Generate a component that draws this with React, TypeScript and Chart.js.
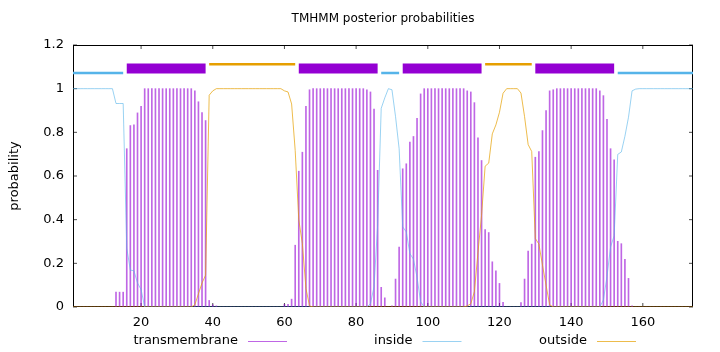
import React, { useEffect, useRef } from "react";
import { Chart, registerables } from "chart.js";

Chart.register(...registerables);

// ---- data (residue index = position in array + 1) ----
const tmProb = [
  0, 0, 0, 0, 0, 0, 0, 0, 0, 0,
  0, 0, 0.068, 0.068, 0.068, 0.725, 0.831, 0.834, 0.889, 0.919,
  1, 1, 1, 1, 1, 1, 1, 1, 1, 1,
  1, 1, 1, 1, 0.99, 0.94, 0.89, 0.854, 0.03, 0.01,
  0.005, 0, 0, 0, 0, 0, 0, 0, 0, 0,
  0, 0, 0, 0, 0, 0, 0, 0, 0, 0.012,
  0.012, 0.036, 0.283, 0.622, 0.709, 0.919, 0.995, 1, 1, 1,
  1, 1, 1, 1, 1, 1, 1, 1, 1, 1,
  1, 1, 0.995, 0.985, 0.907, 0.626, 0.09, 0.042, 0, 0.005,
  0.128, 0.275, 0.633, 0.656, 0.755, 0.781, 0.864, 0.976, 1, 1,
  1, 1, 1, 1, 1, 1, 1, 1, 1, 1,
  0.99, 0.985, 0.936, 0.775, 0.671, 0.355, 0.341, 0.207, 0.166, 0.108,
  0.021, 0, 0, 0, 0, 0.02, 0.128, 0.256, 0.288, 0.686,
  0.712, 0.808, 0.9, 0.99, 0.995, 1, 1, 1, 1, 1,
  1, 1, 1, 1, 1, 1, 1, 0.99, 0.968, 0.86,
  0.725, 0.674, 0.301, 0.29, 0.218, 0.131, 0.005, 0, 0, 0,
  0, 0, 0, 0, 0, 0, 0, 0, 0, 0,
  0, 0, 0, 0,
];

const insideProb = [
  1, 1, 1, 1, 1, 1, 1, 1, 1, 1,
  1, 1, 0.932, 0.932, 0.932, 0.27, 0.169, 0.166, 0.11, 0.08,
  0, 0, 0, 0, 0, 0, 0, 0, 0, 0,
  0, 0, 0, 0, 0, 0, 0, 0, 0, 0,
  0, 0, 0, 0, 0, 0, 0, 0, 0, 0,
  0, 0, 0, 0, 0, 0, 0, 0, 0, 0,
  0, 0, 0, 0, 0, 0, 0, 0, 0, 0,
  0, 0, 0, 0, 0, 0, 0, 0, 0, 0,
  0, 0, 0, 0.015, 0.093, 0.374, 0.91, 0.958, 1, 0.995,
  0.872, 0.725, 0.367, 0.344, 0.245, 0.219, 0.136, 0.024, 0, 0,
  0, 0, 0, 0, 0, 0, 0, 0, 0, 0,
  0, 0, 0, 0, 0, 0, 0, 0, 0, 0,
  0, 0, 0, 0, 0, 0, 0, 0, 0, 0,
  0, 0, 0, 0, 0, 0, 0, 0, 0, 0,
  0, 0, 0, 0, 0, 0, 0, 0, 0.032, 0.14,
  0.275, 0.326, 0.699, 0.71, 0.782, 0.869, 0.99, 0.998, 1, 1,
  1, 1, 1, 1, 1, 1, 1, 1, 1, 1,
  1, 1, 1, 1,
];

const outsideProb = [
  0, 0, 0, 0, 0, 0, 0, 0, 0, 0,
  0, 0, 0, 0, 0, 0, 0, 0, 0, 0,
  0, 0, 0, 0, 0, 0, 0, 0, 0, 0,
  0, 0, 0, 0, 0.01, 0.06, 0.11, 0.146, 0.97, 0.99,
  1, 1, 1, 1, 1, 1, 1, 1, 1, 1,
  1, 1, 1, 1, 1, 1, 1, 1, 1, 0.99,
  0.985, 0.93, 0.717, 0.4, 0.29, 0.085, 0.005, 0, 0, 0,
  0, 0, 0, 0, 0, 0, 0, 0, 0, 0,
  0, 0, 0, 0, 0, 0, 0, 0, 0, 0,
  0, 0, 0, 0, 0, 0, 0, 0, 0, 0,
  0, 0, 0, 0, 0, 0, 0, 0, 0, 0,
  0.005, 0.015, 0.07, 0.25, 0.42, 0.645, 0.659, 0.793, 0.834, 0.892,
  0.979, 1, 1, 1, 1, 0.98, 0.872, 0.744, 0.712, 0.314,
  0.288, 0.192, 0.1, 0.01, 0, 0, 0, 0, 0, 0,
  0, 0, 0, 0, 0, 0, 0, 0, 0, 0,
  0, 0, 0, 0, 0, 0, 0, 0, 0, 0,
  0, 0, 0, 0, 0, 0, 0, 0, 0, 0,
  0, 0, 0, 0,
];

// predicted topology segments [start, end]
const tmSegments = [[16, 38], [64, 86], [93, 115], [130, 152]];
const insideSegments = [[1, 15], [87, 92], [153, 174]];
const outsideSegments = [[39, 63], [116, 129]];

const seqLength = 174;
const xTickValues = [20, 40, 60, 80, 100, 120, 140, 160];
const yTickValues = [0, 0.2, 0.4, 0.6, 0.8, 1, 1.2];
const yTickLabels = ["0", "0.2", "0.4", "0.6", "0.8", "1", "1.2"];

const titleText = "TMHMM posterior probabilities";
const yAxisTitle = "probability";
const legendLabels = ["transmembrane", "inside", "outside"];

// ---- styles ----
const FONT = '"DejaVu Sans", sans-serif';
const FS = 13;
const TITLE_FS = 12;
const C_TM = "rgba(148,0,211,0.6)";
const C_IN = "rgba(86,180,233,0.6)";
const C_OUT = "rgba(230,159,0,0.7)";
const BAR_TM = "#9400d3";
const BAR_IN = "#56b4e9";
const BAR_OUT = "#e69f00";
const LEVEL_IN = 1.072;
const LEVEL_TM = 1.092;
const LEVEL_OUT = 1.112;

const toPoints = (arr: number[]) => arr.map((v, i) => ({ x: i + 1, y: v }));
const segPoints = (segs: number[][], level: number) => {
  const pts: { x: number; y: number | null }[] = [];
  segs.forEach(([s, e]) => {
    pts.push({ x: s, y: level });
    pts.push({ x: e, y: level });
    pts.push({ x: e + 0.5, y: null });
  });
  return pts;
};

const decorPlugin = {
  id: "decor",
  beforeDatasetsDraw(chart: any) {
    const { ctx, chartArea: a, scales } = chart;
    ctx.save();
    ctx.strokeStyle = "#000";
    ctx.lineWidth = 1;
    ctx.strokeRect(a.left + 0.5, a.top + 0.5, a.right - a.left - 1, a.bottom - a.top - 1);
    ctx.strokeStyle = "rgba(0,0,0,0.7)";
    const tl = 4;
    ctx.beginPath();
    xTickValues.forEach((v) => {
      const x = scales.x.getPixelForValue(v);
      ctx.moveTo(x, a.bottom);
      ctx.lineTo(x, a.bottom - tl);
      ctx.moveTo(x, a.top);
      ctx.lineTo(x, a.top + tl);
    });
    yTickValues.forEach((v) => {
      const y = scales.y.getPixelForValue(v);
      ctx.moveTo(a.left, y);
      ctx.lineTo(a.left + tl, y);
      ctx.moveTo(a.right, y);
      ctx.lineTo(a.right - tl, y);
    });
    ctx.stroke();
    ctx.restore();
  },
  afterDraw(chart: any) {
    const { ctx, chartArea: a } = chart;
    ctx.save();
    ctx.fillStyle = "#000";
    ctx.textAlign = "center";
    ctx.textBaseline = "middle";
    ctx.font = `${TITLE_FS}px ${FONT}`;
    ctx.fillText(titleText, (a.left + a.right) / 2, 19);
    ctx.font = `${FS}px ${FONT}`;
    // y title
    ctx.save();
    ctx.translate(15, (a.top + a.bottom) / 2);
    ctx.rotate(-Math.PI / 2);
    ctx.fillText(yAxisTitle, 0, 0);
    ctx.restore();
    // legend
    const colors = [C_TM, C_IN, C_OUT];
    const ly = 341;
    legendLabels.forEach((lab, i) => {
      const xe = a.left + 165 + i * 174.5;
      ctx.textAlign = "right";
      ctx.fillStyle = "#000";
      ctx.fillText(lab, xe, ly);
      ctx.strokeStyle = colors[i];
      ctx.lineWidth = 1;
      ctx.beginPath();
      ctx.moveTo(xe + 10, ly + 0.5);
      ctx.lineTo(xe + 49, ly + 0.5);
      ctx.stroke();
    });
    ctx.restore();
  },
};

export default function App() {
  const ref = useRef<HTMLCanvasElement | null>(null);
  useEffect(() => {
    if (!ref.current) return;
    const chart = new Chart(ref.current, {
      type: "line",
      data: {
        datasets: [
          {
            type: "line",
            label: "outside",
            data: toPoints(outsideProb),
            borderColor: C_OUT,
            borderWidth: 1,
            pointRadius: 0,
            tension: 0,
            order: 0,
          },
          {
            type: "line",
            label: "inside",
            data: toPoints(insideProb),
            borderColor: C_IN,
            borderWidth: 1,
            pointRadius: 0,
            tension: 0,
            order: 1,
          },
          {
            type: "bar",
            label: "transmembrane",
            data: toPoints(tmProb),
            backgroundColor: C_TM,
            borderWidth: 0,
            barThickness: 1,
            grouped: false,
            order: 2,
          } as any,
          {
            type: "line",
            label: "tm-bar",
            data: segPoints(tmSegments, LEVEL_TM),
            borderColor: BAR_TM,
            borderWidth: 10,
            borderCapStyle: "butt",
            pointRadius: 0,
            spanGaps: false,
            order: 3,
          },
          {
            type: "line",
            label: "in-bar",
            data: segPoints(insideSegments, LEVEL_IN),
            borderColor: BAR_IN,
            borderWidth: 2.5,
            borderCapStyle: "butt",
            pointRadius: 0,
            spanGaps: false,
            order: 3,
          },
          {
            type: "line",
            label: "out-bar",
            data: segPoints(outsideSegments, LEVEL_OUT),
            borderColor: BAR_OUT,
            borderWidth: 2.5,
            borderCapStyle: "butt",
            pointRadius: 0,
            spanGaps: false,
            order: 3,
          },
        ],
      },
      options: {
        animation: false,
        responsive: false,
        devicePixelRatio: 1,
        layout: { padding: { left: 0, right: 27, top: 45, bottom: 0 } },
        plugins: {
          legend: { display: false },
          title: { display: false },
          tooltip: { enabled: false },
        },
        scales: {
          x: {
            type: "linear",
            min: 1,
            max: seqLength,
            offset: false,
            grid: { display: false, drawTicks: false, tickLength: 0 },
            border: { display: false },
            ticks: {
              color: "#000",
              font: { family: FONT, size: FS },
              padding: 8,
              maxRotation: 0,
              autoSkip: false,
              callback: (v: any) => String(v),
            },
            afterBuildTicks: (s: any) => {
              s.ticks = xTickValues.map((v) => ({ value: v }));
            },
            afterFit: (s: any) => {
              s.height = 45;
            },
          },
          y: {
            type: "linear",
            min: 0,
            max: 1.2,
            grid: { display: false, drawTicks: false, tickLength: 0 },
            border: { display: false },
            ticks: {
              color: "#000",
              font: { family: FONT, size: FS },
              padding: 9,
              autoSkip: false,
              callback: (v: any) => {
                const i = yTickValues.findIndex((t) => Math.abs(t - v) < 1e-6);
                return i >= 0 ? yTickLabels[i] : "";
              },
            },
            afterBuildTicks: (s: any) => {
              s.ticks = yTickValues.map((v) => ({ value: v }));
            },
            afterFit: (s: any) => {
              s.width = 73;
            },
          },
        },
      },
      plugins: [decorPlugin],
    });
    return () => chart.destroy();
  }, []);
  return (
    <div style={{ position: "absolute", left: 0, top: 0, width: 720, height: 352, background: "#fff" }}>
      <canvas ref={ref} width={720} height={352} style={{ display: "block" }} />
    </div>
  );
}
